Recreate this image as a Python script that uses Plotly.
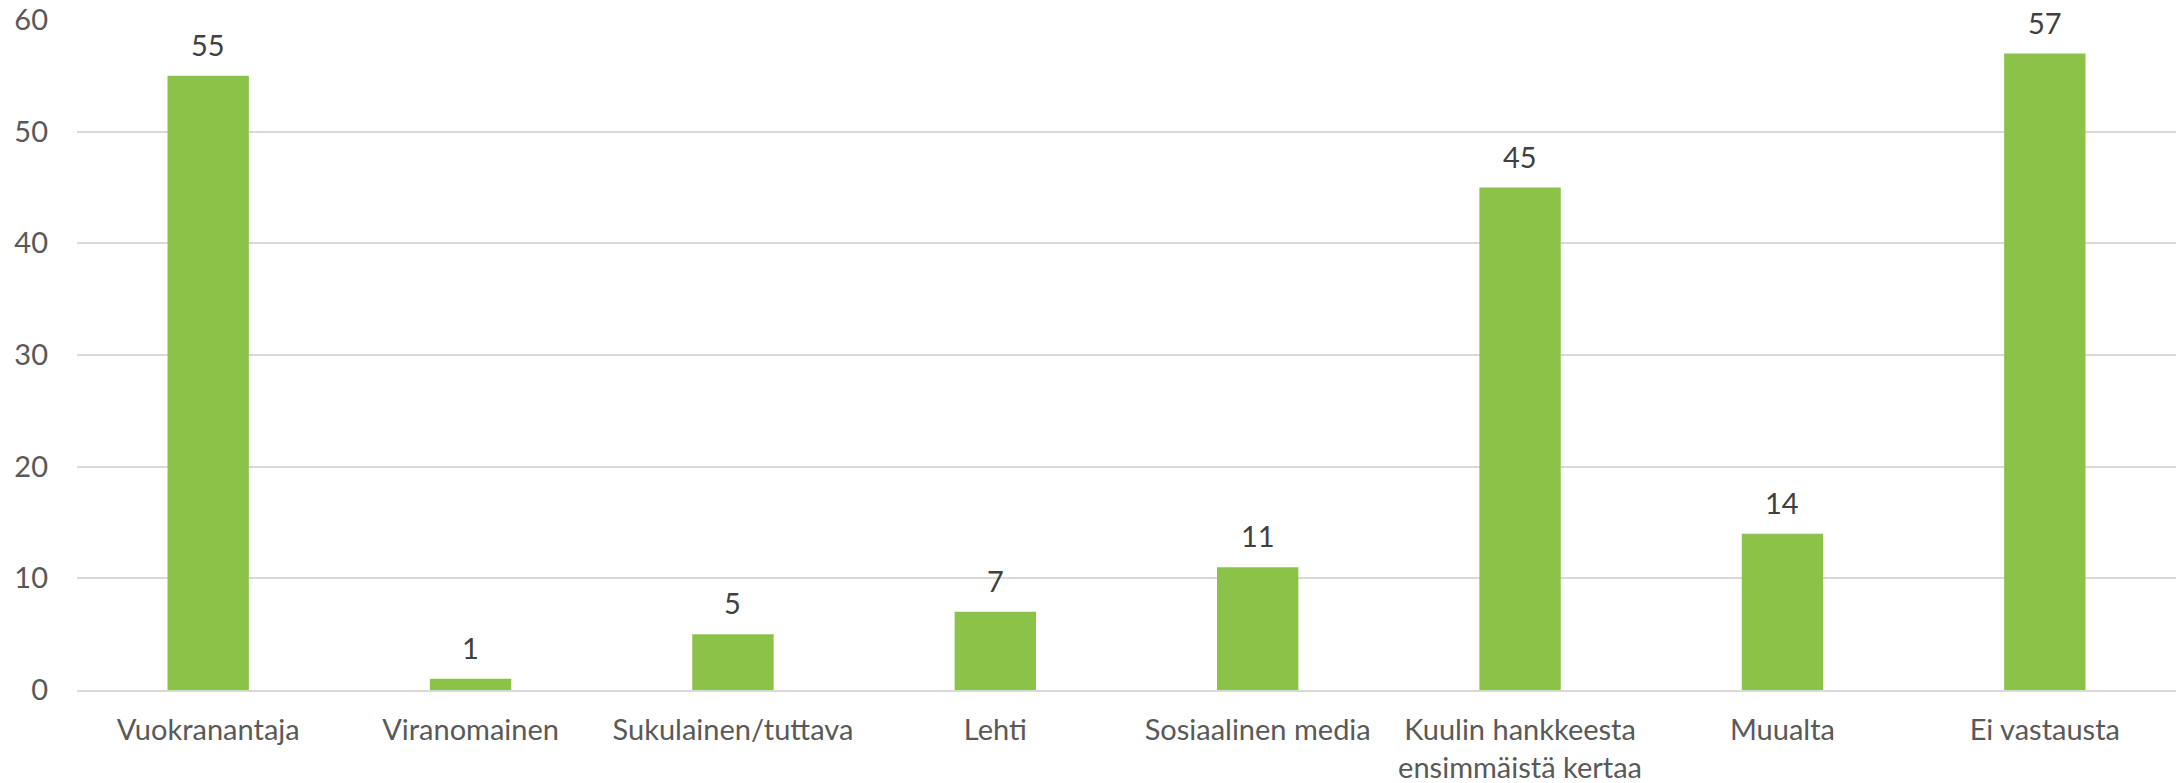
import plotly.graph_objects as go

# Survey answers: where respondents heard about the project
categories = [
    "Vuokranantaja",
    "Viranomainen",
    "Sukulainen/tuttava",
    "Lehti",
    "Sosiaalinen media",
    "Kuulin hankkeesta<br>ensimmäistä kertaa",
    "Muualta",
    "Ei vastausta",
]
counts = [55, 1, 5, 7, 11, 45, 14, 57]
y_ticks = [0, 10, 20, 30, 40, 50, 60]

FONT = "Lato"
SIZE = 29
BAR_COLOR = "#8BC248"
GRID_COLOR = "#D9D9D9"

fig = go.Figure(
    go.Bar(
        x=categories,
        y=counts,
        marker=dict(color=BAR_COLOR, line=dict(width=0)),
        hoverinfo="x+y",
    )
)

# Value labels above each bar
for cat, val in zip(categories, counts):
    fig.add_annotation(
        x=cat,
        y=val,
        text=str(val),
        showarrow=False,
        yanchor="bottom",
        yshift=12,
        font=dict(family=FONT, size=SIZE, color="#404040"),
    )

fig.update_layout(
    width=2178,
    height=783,
    margin=dict(l=77, r=2, t=20, b=93),
    paper_bgcolor="white",
    plot_bgcolor="white",
    bargap=0.69,
    showlegend=False,
    font=dict(family=FONT, size=SIZE, color="#595959"),
)

fig.update_xaxes(
    automargin=False,
    showgrid=False,
    showline=True,
    linecolor=GRID_COLOR,
    linewidth=2,
    ticks="",
    tickfont=dict(family=FONT, size=SIZE, color="#595959"),
    ticklabelstandoff=13,
)

fig.update_yaxes(
    automargin=False,
    range=[0, 60],
    tickvals=y_ticks,
    showgrid=True,
    gridcolor=GRID_COLOR,
    gridwidth=2,
    zeroline=False,
    showline=False,
    ticks="",
    tickfont=dict(family=FONT, size=SIZE, color="#595959"),
    ticklabelstandoff=28,
)

fig.write_html("out.html")
